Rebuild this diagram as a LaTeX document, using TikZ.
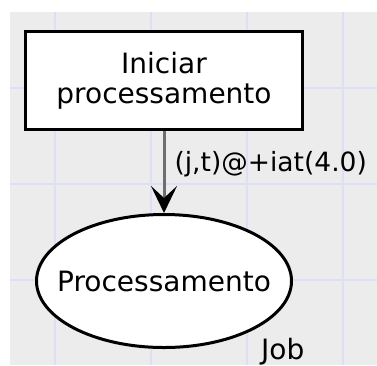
\documentclass[tikz,border=0pt]{standalone}
\usepackage{fontspec}
\setmainfont{DejaVu Sans}
\usetikzlibrary{shapes.geometric,arrows.meta}
\definecolor{canvasGrey}{RGB}{236,236,236}
\definecolor{gridBlue}{RGB}{222,222,248}
\definecolor{arcGrey}{RGB}{110,110,110}

\begin{document}
\begin{tikzpicture}
[x=1pt,y=-1pt,
  textDecorate/.style={font=\fontsize{28}{30}\selectfont},
  transDecorate/.style={shape=rectangle,draw,line width=3pt,fill=white,%
    minimum width=277pt,minimum height=98pt,align=center,textDecorate},
  placeDecorate/.style={shape=ellipse,draw,line width=3pt,fill=white,%
    minimum width=255pt,minimum height=133pt,inner sep=0pt},
  arcDecorate/.style={-{Stealth[length=27pt,width=26pt,inset=12pt,black]},arcGrey,line width=3pt}]
%% canvas and grid
\useasboundingbox (0,0) rectangle (377,365);
\fill[canvasGrey] (10,12) rectangle (377,365);
\foreach \gx in {55,151,247,343}
{
  \draw[gridBlue,line width=2pt] (\gx,12) -- (\gx,365);
}
\foreach \gy in {88,184,280}
{
  \draw[gridBlue,line width=2pt] (10,\gy) -- (377,\gy);
}
%% nodes
\node (start) at (164,80.5) [transDecorate] {Iniciar\\processamento};
\node (proc) at (164,281) [placeDecorate,label={[textDecorate,inner sep=0pt]center:Processamento}] {};
\node (job) at (261,359) [anchor=base west,inner sep=0pt,textDecorate] {Job};
%% arcs
\path
  (start) edge[arcDecorate] node[pos=0.4,anchor=west,inner sep=0pt,xshift=9pt,text=black,font=\fontsize{26.5}{30}\selectfont] {(j,t)@+iat(4.0)} (proc);
\end{tikzpicture}
\end{document}
